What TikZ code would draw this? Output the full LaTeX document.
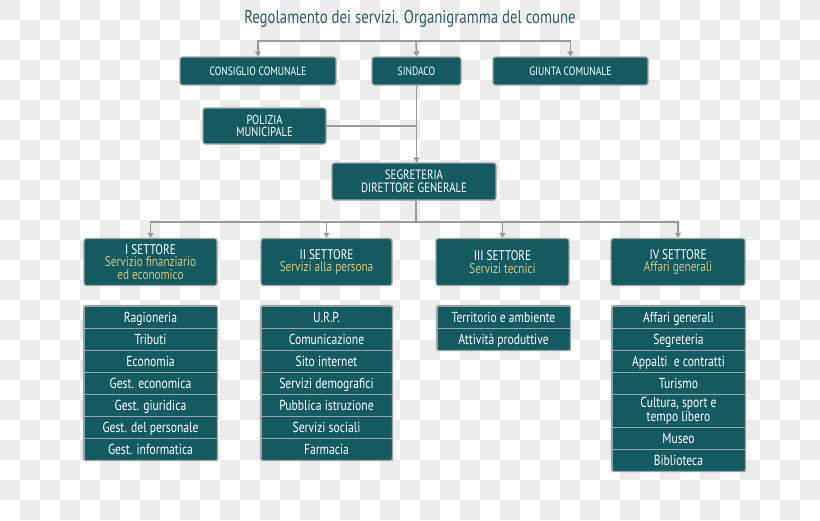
\documentclass[tikz,border=0pt]{standalone}
\usepackage{fontspec}
\setmainfont{PT Sans}[FakeStretch=0.8]
\usepackage{tikz}
\usetikzlibrary{arrows.meta}
\definecolor{boxfill}{HTML}{135A61}
\definecolor{boxline}{HTML}{9CA3A3}
\definecolor{wire}{HTML}{9A9A9A}
\definecolor{gold}{HTML}{D6C47E}
\definecolor{titlecol}{HTML}{2C5E66}
\definecolor{checker}{HTML}{ECECEC}
\tikzset{
  box/.style={draw=boxline,line width=1.2pt,fill=boxfill,rounded corners=2.5pt,
    text=white,align=center,inner sep=0pt,font=\fontsize{13.5}{12.5}\selectfont},
  row/.style={draw=boxline,line width=1pt,fill=boxfill,text=white,align=center,
    inner sep=0pt,minimum height=22pt,text height=11.5pt,text depth=1.5pt,
    font=\fontsize{14.5}{11}\selectfont},
  wires/.style={draw=wire,line width=1.6pt},
  tip/.style={wires,-{Triangle[length=5pt,width=6pt]}}
}
\newcommand{\sub}[1]{\\\textcolor{gold}{#1}}
\begin{document}
\begin{tikzpicture}[x=1pt,y=-1pt]
\useasboundingbox (0,0) rectangle (820,520);
\fill[white] (0,0) rectangle (820,520);
\foreach \i in {0,...,40}
  \foreach \j in {0,...,25}{
    \pgfmathtruncatemacro{\parity}{mod(\i+\j,2)}
    \ifnum\parity=0 \fill[checker] (20*\i,20*\j) rectangle ++(20,20);\fi
  }
\node[text=titlecol,font=\fontsize{18.5}{20}\selectfont] (title) at (410,19) {Regolamento dei servizi. Organigramma del comune};

\node[box,minimum width=156pt,minimum height=28pt,font=\fontsize{12}{12}\selectfont] (cons) at (258,71) {CONSIGLIO COMUNALE};
\node[box,minimum width=89pt,minimum height=28pt,font=\fontsize{12}{12}\selectfont] (sind) at (416.5,71) {SINDACO};
\node[box,minimum width=155pt,minimum height=28pt,font=\fontsize{12}{12}\selectfont] (giun) at (570.5,71) {GIUNTA COMUNALE};
\node[box,minimum width=123pt,minimum height=36pt,font=\fontsize{13}{12}\selectfont] (pol) at (264.5,126) {POLIZIA\\MUNICIPALE};
\node[box,minimum width=164pt,minimum height=37pt] (seg) at (414,181.5) {SEGRETERIA\\DIRETTORE GENERALE};

\node[box,minimum width=133pt,minimum height=47pt,font=\fontsize{14}{12.5}\selectfont] (s1) at (150.5,262) {I SETTORE\sub{Servizio finanziario}\\\textcolor{gold}{ed economico}};
\node[box,minimum width=131pt,minimum height=47pt,font=\fontsize{14}{12.5}\selectfont] (s2) at (326.5,262) {II SETTORE\sub{Servizi alla persona}};
\node[box,minimum width=133pt,minimum height=47pt,font=\fontsize{14}{12.5}\selectfont] (s3) at (502.5,262) {III SETTORE\sub{Servizi tecnici}};
\node[box,minimum width=134pt,minimum height=47pt,font=\fontsize{14}{12.5}\selectfont] (s4) at (678,262) {IV SETTORE\sub{Affari generali}};

\coordinate (top) at (416,41);
\draw[tip] (top) -| (cons.north);
\draw[tip] (top) -| (giun.north);
\draw[tip] (top) -- (sind.north);
\draw[tip] (sind.south) -- (seg.north -| sind.south);
\draw[wires] (pol.east) -- (pol.east -| sind.south);
\coordinate (bus) at (416,222);
\draw[wires] (seg.south -| bus) -- (bus);
\foreach \s in {s1,s2,s3,s4}
  \draw[tip] (bus) -| (\s.north);

\foreach \t [count=\k] in {Ragioneria,Tributi,Economia,Gest. economica,Gest. giuridica,Gest. del personale,Gest. informatica}
  \node[row,minimum width=133pt] (a\k) at (150.5,295+22*\k) {\t};
\foreach \t [count=\k] in {U.R.P.,Comunicazione,Sito internet,Servizi demografici,Pubblica istruzione,Servizi sociali,Farmacia}
  \node[row,minimum width=131pt] (b\k) at (326.5,295+22*\k) {\t};
\foreach \t [count=\k] in {Territorio e ambiente,Attività produttive}
  \node[row,minimum width=133pt] (c\k) at (503.5,295+22*\k) {\t};
\foreach \t [count=\k] in {Affari generali,Segreteria,Appalti\ \ e contratti,Turismo}
  \node[row,minimum width=133pt] (d\k) at (678.5,295+22*\k) {\t};
\node[row,minimum width=133pt,minimum height=33pt,text height=,text depth=,font=\fontsize{14.5}{10.5}\selectfont] (d5) at (678.5,410.5) {Cultura, sport e\\tempo libero};
\node[row,minimum width=133pt] (d6) at (678.5,438) {Museo};
\node[row,minimum width=133pt] (d7) at (678.5,460) {Biblioteca};

\draw[boxline,line width=1.2pt,rounded corners=2.5pt] (a1.north west) rectangle (a7.south east);
\draw[boxline,line width=1.2pt,rounded corners=2.5pt] (b1.north west) rectangle (b7.south east);
\draw[boxline,line width=1.2pt,rounded corners=2.5pt] (c1.north west) rectangle (c2.south east);
\draw[boxline,line width=1.2pt,rounded corners=2.5pt] (d1.north west) rectangle (d7.south east);
\end{tikzpicture}
\end{document}
